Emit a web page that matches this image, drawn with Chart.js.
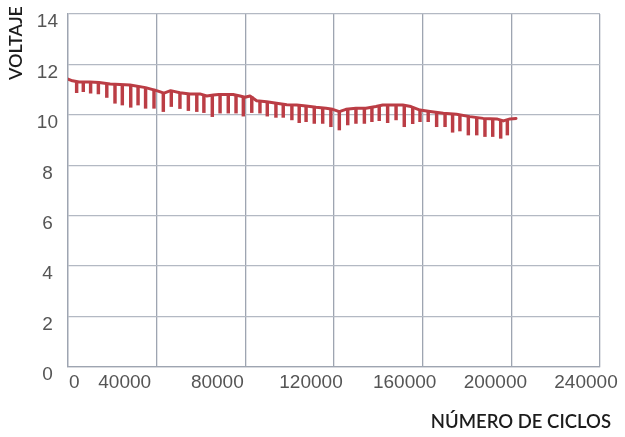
<!DOCTYPE html>
<html>
<head>
<meta charset="utf-8">
<script src="https://cdn.jsdelivr.net/npm/chart.js@4.4.1/dist/chart.umd.min.js"></script>
<style>
  html, body { margin: 0; padding: 0; background: #fff; }
</style>
</head>
<body>
<canvas id="voltChart" width="625" height="437"></canvas>
<script>
// tick labels
const xTickLabels = ['0', '40000', '80000', '120000', '160000', '200000', '240000'];
const yTickLabels = ['0', '2', '4', '6', '8', '10', '12', '14'];

// upper voltage trace (ciclos, voltios)
const lineX = [0, 2000, 5000, 10000, 14000, 19000, 28000, 35000, 40300, 43300, 46300, 50500,
  55000, 59500, 62600, 65600, 68000, 74500, 77600, 79800, 82100, 85100, 89600, 94100, 98700,
  103200, 107400, 111900, 116400, 119400, 122400, 125400, 129900, 134400, 138900, 142000,
  148000, 151000, 154700, 158800, 163300, 169300, 175300, 181300, 187300, 193400, 196400,
  199400, 202100];
const lineY = [11.42, 11.35, 11.30, 11.30, 11.28, 11.22, 11.18, 11.08, 10.95, 10.86, 10.96, 10.88,
  10.83, 10.83, 10.75, 10.79, 10.81, 10.81, 10.75, 10.70, 10.75, 10.56, 10.52, 10.46, 10.40,
  10.39, 10.35, 10.30, 10.26, 10.22, 10.13, 10.22, 10.26, 10.26, 10.33, 10.39,
  10.39, 10.39, 10.33, 10.19, 10.13, 10.06, 10.02, 9.93, 9.86, 9.84, 9.76,
  9.84, 9.86];

// downward spikes (ciclos, voltaje inferior, voltaje superior)
const spikeX = [3900, 6900, 10200, 13700, 17500, 21200, 24500, 28300, 31600, 35000, 38800,
  43000, 46600, 50500, 54300, 58100, 61300, 65100, 68600, 72300, 75800, 79100, 82900, 86600,
  89900, 93800, 97100, 101000, 104300, 107400, 111100, 114900, 118600, 122400, 126200,
  129900, 133700, 137100, 140400, 144200, 148000, 151700, 155500, 158800, 162500, 166300,
  170100, 173500, 176800, 180600, 184400, 188100, 191600, 195200, 198200];
const spikeLow = [10.88, 10.92, 10.86, 10.83, 10.69, 10.46, 10.39, 10.30, 10.39, 10.26, 10.26,
  10.13, 10.33, 10.25, 10.17, 10.13, 10.09, 9.93, 10.07, 10.07, 10.07, 9.95, 10.09, 10.07,
  9.95, 9.90, 9.90, 9.80, 9.69, 9.73, 9.66, 9.66, 9.53, 9.40, 9.60,
  9.66, 9.66, 9.73, 9.77, 9.69, 9.80, 9.53, 9.65, 9.73, 9.73, 9.53,
  9.53, 9.31, 9.36, 9.20, 9.20, 9.14, 9.14, 9.07, 9.20];
const spikeTop = [11.31, 11.30, 11.30, 11.28, 11.24, 11.21, 11.20, 11.18, 11.13, 11.08, 11.02,
  10.87, 10.95, 10.89, 10.84, 10.83, 10.77, 10.78, 10.81, 10.81, 10.78, 10.71, 10.72, 10.55,
  10.52, 10.47, 10.41, 10.39, 10.38, 10.35, 10.31, 10.27, 10.23, 10.13, 10.22,
  10.26, 10.26, 10.31, 10.36, 10.39, 10.39, 10.39, 10.30, 10.19, 10.14, 10.09,
  10.06, 10.03, 10.00, 9.94, 9.89, 9.86, 9.85, 9.80, 9.80];

const traceColor = '#bb3d45';
const tickFont = '"Liberation Sans", Arial, sans-serif';
const titleFont = 'Lato, "Open Sans", sans-serif';
// in the original the x labels drift left of their grid lines
const xLabelShift = [0, -32, -28, -23, -18, -16, -14];

const axisText = {
  id: 'axisText',
  afterDraw(chart) {
    const ctx = chart.ctx;
    const xScale = chart.scales.x;
    ctx.save();
    ctx.font = '19px ' + tickFont;
    ctx.fillStyle = '#555';
    ctx.textBaseline = 'middle';
    xScale.ticks.forEach((t, i) => {
      const px = xScale.getPixelForValue(t.value);
      if (i === 0) {
        ctx.textAlign = 'left';
        ctx.fillText(xTickLabels[i], px + 1, 383);
      } else {
        ctx.textAlign = 'center';
        ctx.fillText(xTickLabels[i], px + xLabelShift[i], 383);
      }
    });

    ctx.fillStyle = '#1c1c1c';
    ctx.font = '600 18.5px ' + titleFont;
    ctx.textAlign = 'right';
    ctx.fillText('NÚMERO DE CICLOS', 611, 422);

    ctx.translate(16, 43);
    ctx.rotate(-Math.PI / 2);
    ctx.font = '600 18px ' + titleFont;
    ctx.textAlign = 'center';
    ctx.fillText('VOLTAJE', 0, 0);
    ctx.restore();
  }
};

const ctx = document.getElementById('voltChart').getContext('2d');
new Chart(ctx, {
  type: 'line',
  data: {
    datasets: [
      {
        type: 'bar',
        data: spikeX.map((x, i) => ({ x: x, y: [spikeLow[i], spikeTop[i]] })),
        backgroundColor: traceColor,
        barThickness: 2.8,
        borderWidth: 0
      },
      {
        type: 'line',
        data: lineX.map((x, i) => ({ x: x, y: lineY[i] })),
        borderColor: traceColor,
        borderWidth: 3,
        pointRadius: 0,
        tension: 0,
        borderJoinStyle: 'round',
        borderCapStyle: 'round'
      }
    ]
  },
  options: {
    responsive: false,
    animation: false,
    layout: { padding: { top: 14, right: 25, left: 0, bottom: 0 } },
    plugins: {
      legend: { display: false },
      tooltip: { enabled: false }
    },
    scales: {
      x: {
        type: 'linear',
        min: 0,
        max: 240000,
        offset: false,
        afterFit: (scale) => { scale.height = 70; },
        ticks: { stepSize: 40000, display: false },
        grid: { color: '#9ea5b1', lineWidth: 1.3, drawTicks: false, offset: false },
        border: { color: '#9ea5b1', width: 1.3 }
      },
      y: {
        min: 0,
        max: 14,
        afterFit: (scale) => {
          scale.width = 68;
          scale.paddingTop = 0;
          scale.paddingBottom = 0;
        },
        ticks: {
          stepSize: 2,
          crossAlign: 'center',
          padding: 10,
          labelOffset: 8,
          color: '#555',
          font: { family: tickFont, size: 19 },
          callback: (value, index) => yTickLabels[index]
        },
        grid: { color: '#b3b9c3', lineWidth: 1.3, drawTicks: false },
        border: { color: '#9ea5b1', width: 1.3 }
      }
    }
  },
  plugins: [axisText]
});
</script>
</body>
</html>
